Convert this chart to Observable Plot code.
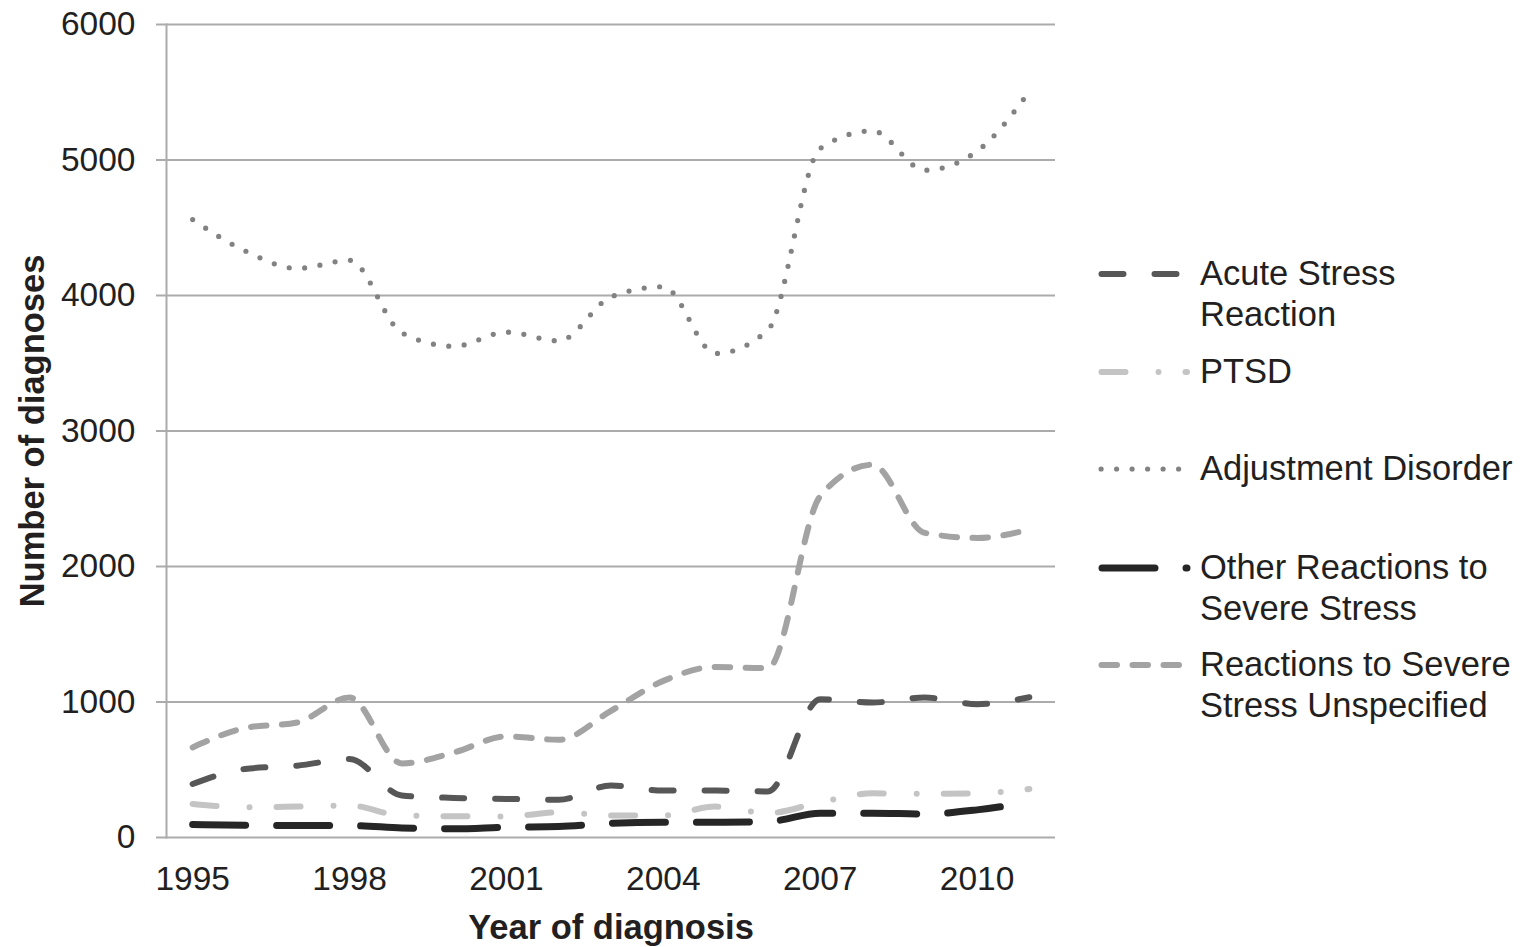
<!DOCTYPE html>
<html>
<head>
<meta charset="utf-8">
<script src="https://cdn.jsdelivr.net/npm/d3@7"></script>
<script src="https://cdn.jsdelivr.net/npm/@observablehq/plot@0.6"></script>
<style>
  body { margin: 0; background: #fff; }
  #wrap { position: relative; width: 1520px; height: 947px; font-family: "Liberation Sans", Arial, sans-serif; color: #231f20; }
  #legend { position: absolute; left: 0; top: 0; }
  .item { position: absolute; left: 1098px; }
  .item svg { position: absolute; left: 0; top: 14px; }
  .item .lbl { position: absolute; left: 102px; top: 0; font-size: 34.5px; line-height: 41px; white-space: nowrap; }
</style>
</head>
<body>
<div id="wrap"><div id="legend"></div></div>
<script>
// ---- data ----
const years = [1995, 1996, 1997, 1998, 1999, 2000, 2001, 2002, 2003, 2004, 2005, 2006, 2007, 2008, 2009, 2010, 2011];
const acuteStressReaction = [395, 506, 530, 579, 310, 292, 285, 278, 383, 346, 346, 340, 1021, 996, 1033, 984, 1035];
const ptsd = [248, 223, 228, 236, 162, 157, 155, 186, 162, 162, 228, 180, 260, 326, 322, 326, 358];
const adjustmentDisorder = [4560, 4330, 4200, 4260, 3725, 3625, 3730, 3665, 3990, 4065, 3572, 3745, 5085, 5215, 4925, 5065, 5505];
const otherReactions = [96, 90, 88, 88, 71, 64, 76, 81, 105, 113, 113, 118, 179, 179, 174, 204, 260];
const reactionsUnspecified = [665, 808, 849, 1033, 547, 628, 746, 721, 935, 1156, 1259, 1250, 2518, 2751, 2248, 2211, 2273];

const seriesNames = ["Acute Stress Reaction", "PTSD", "Adjustment Disorder", "Other Reactions to Severe Stress", "Reactions to Severe Stress Unspecified"];
const legendLines = [["Acute Stress", "Reaction"], ["PTSD"], ["Adjustment Disorder"], ["Other Reactions to", "Severe Stress"], ["Reactions to Severe", "Stress Unspecified"]];
const yTicks = [0, 1000, 2000, 3000, 4000, 5000, 6000];
const xTicks = [1995, 1998, 2001, 2004, 2007, 2010];
const xTitle = "Year of diagnosis";
const yTitle = "Number of diagnoses";

// ---- styles ----
const seriesValues = [acuteStressReaction, ptsd, adjustmentDisorder, otherReactions, reactionsUnspecified];
const styles = [
  {stroke: "#575757", width: 6, dash: "22 31"},
  {stroke: "#c4c4c4", width: 6, dash: "24 33 0 27"},
  {stroke: "#828282", width: 5.2, dash: "0 15.5"},
  {stroke: "#262626", width: 7, dash: "53 31"},
  {stroke: "#a3a3a3", width: 6, dash: "15.5 15.5"}
];
const legendCenters = [273, 371, 468, 567, 664];

const tables = seriesValues.map((vals, s) => years.map((yr, i) => ({series: seriesNames[s], year: yr, value: vals[i]})));

const lineMarks = tables.map((t, s) => Plot.line(t, {
  x: "year", y: "value", curve: "monotone-x",
  stroke: styles[s].stroke, strokeWidth: styles[s].width,
  strokeDasharray: styles[s].dash, strokeLinecap: "round", strokeLinejoin: "round"
}));

const chart = Plot.plot({
  width: 1520, height: 947,
  marginLeft: 166, marginRight: 465, marginTop: 24, marginBottom: 110,
  style: {fontFamily: "'Liberation Sans', Arial, sans-serif", color: "#231f20", background: "transparent"},
  x: {domain: [1994.5, 2011.5]},
  y: {domain: [0, 6000]},
  marks: [
    Plot.gridY(yTicks, {stroke: "#ababab", strokeOpacity: 1, strokeWidth: 2}),
    Plot.axisY(yTicks, {tickSize: 10, tickPadding: 21, stroke: "#ababab", strokeWidth: 2, fontSize: 33.5, label: null, tickFormat: d => String(d)}),
    Plot.frame({anchor: "left", stroke: "#ababab", strokeWidth: 2}),
    Plot.axisX(xTicks, {tickSize: 0, tickPadding: 29, fontSize: 33.5, label: null, tickFormat: d => String(d)}),
    ...lineMarks,
    Plot.text([xTitle], {frameAnchor: "bottom", dy: 101, fontSize: 34.5, fontWeight: "bold", fill: "#231f20"}),
    Plot.text([yTitle], {frameAnchor: "left", textAnchor: "middle", rotate: -90, dx: -134, fontSize: 34.5, fontWeight: "bold", fill: "#231f20"})
  ]
});
document.getElementById("wrap").prepend(chart);

// ---- legend ----
const legend = d3.select("#legend");
seriesNames.forEach((name, s) => {
  const item = legend.append("div").attr("class", "item").style("top", (legendCenters[s] - 20.5) + "px");
  const svg = item.append("svg").attr("width", 96).attr("height", 14);
  svg.append("line")
    .attr("x1", styles[s].width / 2 + 0.5).attr("x2", 89)
    .attr("y1", 7).attr("y2", 7)
    .attr("stroke", styles[s].stroke).attr("stroke-width", styles[s].width)
    .attr("stroke-dasharray", styles[s].dash).attr("stroke-linecap", "round");
  const lbl = item.append("div").attr("class", "lbl");
  legendLines[s].forEach(t => lbl.append("div").text(t));
});
</script>
</body>
</html>
